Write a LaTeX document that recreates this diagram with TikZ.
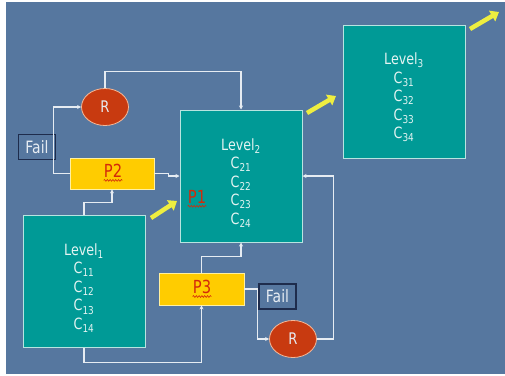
\documentclass[tikz,border=0pt]{standalone}
\usepackage{fontspec}
\setmainfont{DejaVu Sans}[FakeStretch=0.82]
\usepackage{tikz}
\usetikzlibrary{arrows.meta,calc,positioning,shapes.geometric,decorations.pathmorphing}
\definecolor{slideblue}{HTML}{56779F}
\definecolor{levelteal}{HTML}{009A96}
\definecolor{levelrim}{HTML}{B8E4E0}
\definecolor{leveltext}{HTML}{E4F4F2}
\definecolor{procyellow}{HTML}{FFCC00}
\definecolor{procrim}{HTML}{FFF0A0}
\definecolor{procred}{HTML}{D42A0A}
\definecolor{retryred}{HTML}{C83A10}
\definecolor{retryrim}{HTML}{F4B898}
\definecolor{failnavy}{HTML}{1E2C4C}
\definecolor{linkwhite}{HTML}{E6ECF2}
\definecolor{jumpyellow}{HTML}{EEEE40}
\tikzset{
  levelbox/.style={draw=levelrim, fill=levelteal, line width=1pt, minimum width=122pt, minimum height=132pt, inner sep=0pt},
  levellabel/.style={text=leveltext, align=center, font=\fontsize{15.5}{18.5}\selectfont, inner sep=0pt},
  procbox/.style={draw=procrim, fill=procyellow, line width=0.8pt, minimum width=84pt, minimum height=31pt, inner sep=0pt},
  proclabel/.style={text=procred, font=\fontsize{18}{20}\selectfont, inner sep=0pt},
  retry/.style={ellipse, draw=retryrim, fill=retryred, line width=0.8pt, minimum width=47pt, minimum height=37pt, inner sep=0pt, text=linkwhite, font=\fontsize{16}{18}\selectfont},
  failbox/.style={draw=failnavy, line width=1.2pt, minimum width=37pt, minimum height=25pt, inner sep=0pt, text=linkwhite, font=\fontsize{17}{18}\selectfont},
  link/.style={linkwhite, line width=1.1pt, -{Stealth[length=4pt,width=4pt]}},
  jump/.style={jumpyellow, line width=4.5pt, -{Triangle[length=8pt,width=12pt]}},
  squiggle/.style={procred, line width=0.6pt, decorate, decoration={snake, amplitude=0.9pt, segment length=2.8pt}}
}

\begin{document}
\begin{tikzpicture}[x=1pt, y=-1pt]
  % slide background
  \fill[white] (0,0) rectangle (505,375);
  \fill[slideblue] (6,2) rectangle (505,374);
  \useasboundingbox (0,0) rectangle (505,375);

  % levels
  \node[levelbox] (lvl1) at (84,281) {};
  \node[levelbox] (lvl2) at (241,176) {};
  \node[levelbox, minimum height=133pt] (lvl3) at (404,91.5) {};
  \node[levellabel] (lvl1t) at ([yshift=-7pt]lvl1.center) {Level\textsubscript{1}\\C\textsubscript{11}\\C\textsubscript{12}\\C\textsubscript{13}\\C\textsubscript{14}};
  \node[levellabel] (lvl2t) at ([yshift=-7pt]lvl2.center) {Level\textsubscript{2}\\C\textsubscript{21}\\C\textsubscript{22}\\C\textsubscript{23}\\C\textsubscript{24}};
  \node[levellabel] (lvl3t) at ([yshift=-6pt]lvl3.center) {Level\textsubscript{3}\\C\textsubscript{31}\\C\textsubscript{32}\\C\textsubscript{33}\\C\textsubscript{34}};

  % processes
  \node[procbox] (p2) at (112,173.5) {};
  \node[procbox, minimum width=85pt, minimum height=32pt] (p3) at (201.5,289) {};
  \node[proclabel] (p2t) at (113,171) {P2};
  \node[proclabel] (p3t) at (202,287) {P3};
  \node[proclabel] (p1t) at (197,197) {P1};
  \foreach \t in {p1t,p2t,p3t}
    \draw[squiggle] ([yshift=-2.5pt]\t.south west) -- ([yshift=-2.5pt]\t.south east);

  % retries and failures
  \node[retry] (r1) at (105,107) {R};
  \node[retry] (r2) at (293,339) {R};
  \node[failbox] (f1) at (37,147) {Fail};
  \node[failbox] (f2) at (277.5,296.5) {Fail};

  % links
  \draw[link] (lvl1.north) -- ++(0,-12) -| (p2.south);
  \draw[link] (p2.east) -- ++(14,0) |- (lvl2.west);
  \draw[link] (p2.west) -- ++(-16,0) |- (r1.west);
  \draw[link] (r1.north) -- ++(0,-17) -| (lvl2.north);
  \draw[link] (lvl1.south) -- ++(0,15) -| (p3.south);
  \draw[link] (p3.north) -- ++(0,-16) -| (lvl2.south);
  \draw[link] (p3.east) -- ++(13,0) |- (r2.west);
  \draw[link] (r2.east) -- ++(17,0) |- (lvl2.east);

  % level jumps
  \coordinate (j1a) at (151,218); \coordinate (j1b) at (177,201);
  \coordinate (j2a) at (307,113); \coordinate (j2b) at (336,96);
  \coordinate (j3a) at (470,29);  \coordinate (j3b) at (499,12);
  \draw[jump] (j1a) -- (j1b);
  \draw[jump] (j2a) -- (j2b);
  \draw[jump] (j3a) -- (j3b);
\end{tikzpicture}
\end{document}
